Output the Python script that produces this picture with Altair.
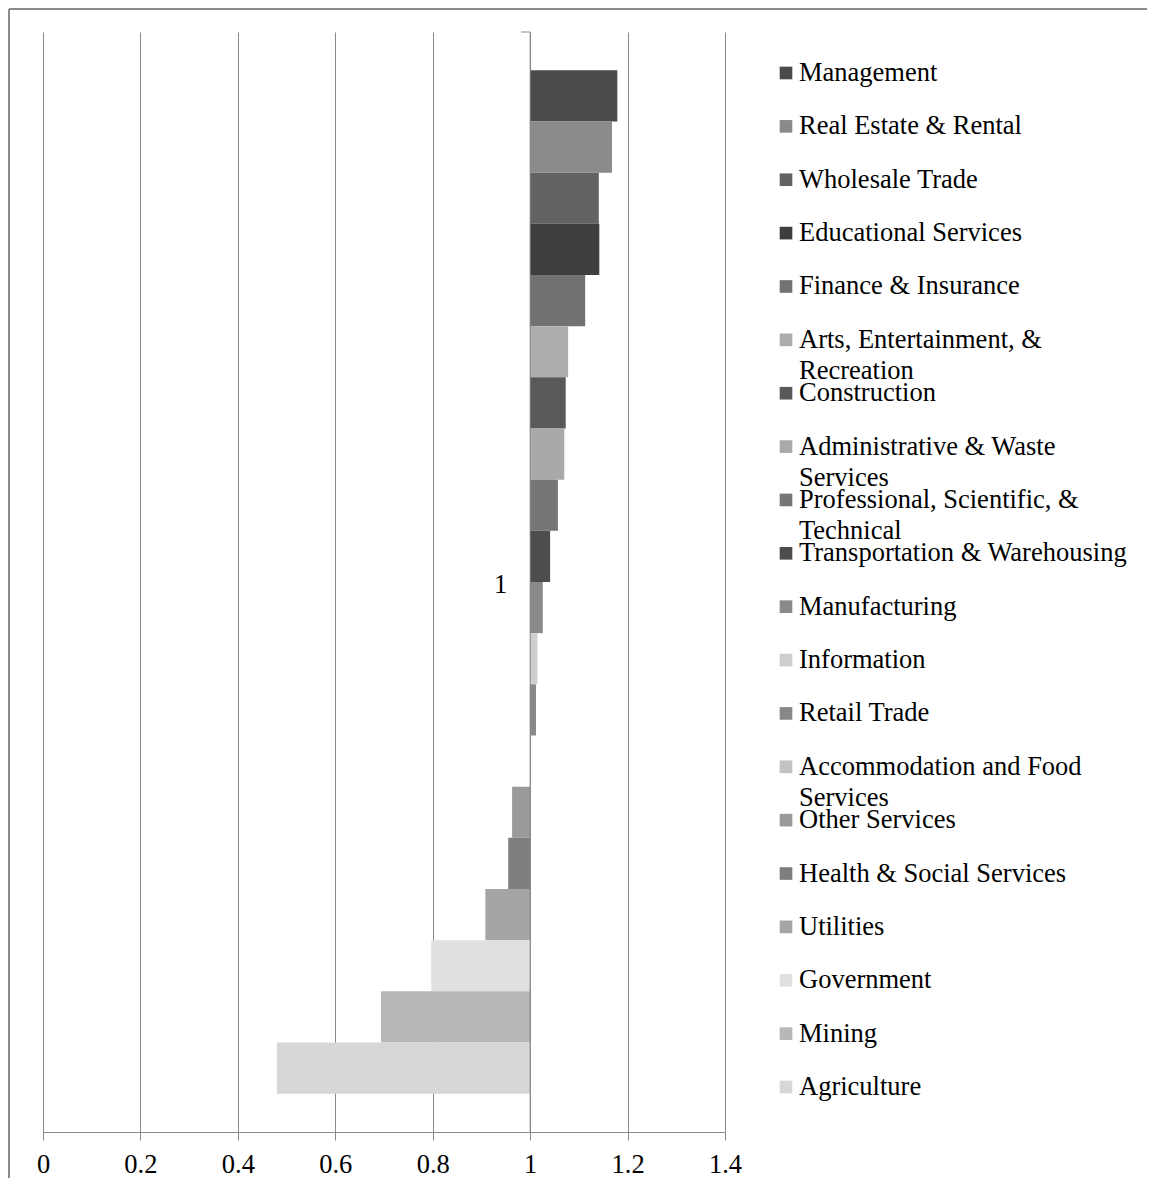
import altair as alt
import pandas as pd

# ---- data ----
series = [
    "Management", "Real Estate & Rental", "Wholesale Trade", "Educational Services",
    "Finance & Insurance", "Arts, Entertainment, &\nRecreation", "Construction",
    "Administrative & Waste\nServices", "Professional, Scientific, &\nTechnical",
    "Transportation & Warehousing", "Manufacturing", "Information", "Retail Trade",
    "Accommodation and Food\nServices", "Other Services", "Health & Social Services",
    "Utilities", "Government", "Mining", "Agriculture",
]
values = [
    1.179, 1.168, 1.141, 1.142, 1.113, 1.078, 1.073, 1.070, 1.057, 1.041,
    1.026, 1.015, 1.012, 1.000, 0.963, 0.955, 0.908, 0.797, 0.694, 0.480,
]
colors = [
    "#4b4b4b", "#8b8b8b", "#636363", "#3e3e3e", "#727272", "#acacac", "#595959",
    "#a9a9a9", "#767676", "#4d4d4d", "#8a8a8a", "#cecece", "#888888", "#c2c2c2",
    "#9a9a9a", "#7e7e7e", "#a5a5a5", "#e0e0e0", "#b7b7b7", "#d7d7d7",
]
category_labels = ["1"]
category_position = [1.0]
x_ticks = [0, 0.2, 0.4, 0.6, 0.8, 1.0, 1.2, 1.4]

FONT = "Liberation Serif"
FS = 26.5
GRID = "#898989"

lines = [s.split("\n") for s in series]
df = pd.DataFrame({
    "name": series,
    "value": values,
    "base": [category_position[0]] * len(series),
    "line1": [l[0] for l in lines],
    "line2": [l[1] if len(l) > 1 else "" for l in lines],
})
cat_df = pd.DataFrame({"label": category_labels, "pos": category_position})

color_scale = alt.Scale(domain=series, range=colors)

x_enc = alt.X(
    "value:Q",
    scale=alt.Scale(domain=[0, 1.4], nice=False, zero=False),
    axis=alt.Axis(
        values=x_ticks, format=".1~f", title=None, grid=True, gridColor=GRID,
        gridWidth=1, domainColor=GRID, tickColor=GRID, tickSize=8, labelFlush=False,
        labelFont=FONT, labelFontSize=FS, labelColor="#000000", labelPadding=11,
    ),
)

bars = alt.Chart(df).mark_bar(opacity=1).encode(
    y=alt.Y("name:N", sort=series,
            scale=alt.Scale(paddingInner=0, paddingOuter=0.75), axis=None),
    x=x_enc,
    x2="base:Q",
    color=alt.Color("name:N", scale=color_scale, legend=None),
)

cat_axis = alt.Chart(cat_df).mark_rule(color=GRID, strokeWidth=1).encode(
    x="pos:Q"
)
cat_tick = alt.Chart(cat_df).mark_rule(color=GRID, strokeWidth=1, x2Offset=-9).encode(
    x="pos:Q", x2="pos:Q", y=alt.value(0)
)
cat_label = alt.Chart(cat_df).mark_text(
    align="right", baseline="middle", dx=-23, dy=3, font=FONT, fontSize=FS, color="#000000"
).encode(x="pos:Q", y=alt.value(550), text="label:N")

leg_y = alt.Y("name:N", sort=series,
              scale=alt.Scale(type="point", range=[41, 1055], padding=0), axis=None)

leg_sym = alt.Chart(df).mark_point(shape="square", filled=True, size=160, opacity=1).encode(
    x=alt.value(743), y=leg_y,
    color=alt.Color("name:N", scale=color_scale, legend=None),
)
leg_txt1 = alt.Chart(df).mark_text(
    align="left", baseline="middle", font=FONT, fontSize=FS, color="#000000"
).encode(x=alt.value(756), y=leg_y, text="line1:N")
leg_txt2 = alt.Chart(df).mark_text(
    align="left", baseline="middle", dy=31, font=FONT, fontSize=FS, color="#000000"
).encode(x=alt.value(756), y=leg_y, text="line2:N")

frame_left = alt.Chart(cat_df).mark_rule(color="#8a8a8a", strokeWidth=2).encode(
    x=alt.value(-34), y=alt.value(-23), y2=alt.value(1150)
)
frame_top = alt.Chart(cat_df).mark_rule(color="#8a8a8a", strokeWidth=2).encode(
    x=alt.value(-34), x2=alt.value(1104), y=alt.value(-23)
)

chart = alt.layer(
    bars, cat_axis, cat_tick, cat_label, leg_sym, leg_txt1, leg_txt2, frame_left, frame_top
).resolve_scale(y="independent").properties(
    width=682, height=1100,
    autosize=alt.AutoSizeParams(type="none"),
    padding={"left": 35, "top": 24, "right": 424, "bottom": 46},
    background="white",
).configure_view(stroke=None)

chart.save("out.html", embed_options={"renderer": "svg", "actions": False})
